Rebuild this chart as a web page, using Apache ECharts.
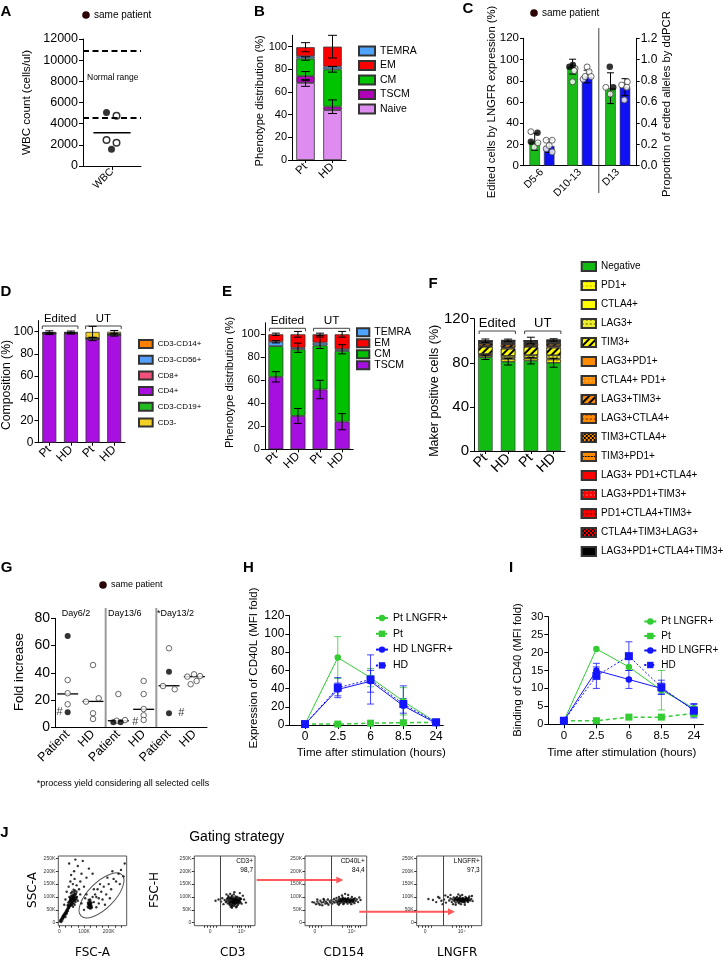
<!DOCTYPE html>
<html><head><meta charset="utf-8">
<script src="https://cdn.jsdelivr.net/npm/echarts@6/dist/echarts.min.js"></script>
<style>
html,body{margin:0;padding:0;background:#fff;}
#wrap{position:relative;width:726px;height:960px;overflow:hidden;background:#fff;}
.c{position:absolute;left:0;top:0;width:726px;height:960px;}
</style></head><body><div id="wrap"></div>
<script>
// ================= DATA =================
// Panel A
const A_CATS = ['WBC'];
const A_FILLED = [5050, 1580];
const A_OPEN = [4750, 2460, 2200];
const A_MEAN = 3150;
const A_NORMAL = [4600, 10900];
// Panel B
const B_CATS = ['Pt', 'HD'];
const B_NAMES = ['Naive', 'TSCM', 'CM', 'TEMRA', 'EM'];
const B_NAIVE = [68, 44];
const B_TSCM = [6, 3];
const B_CM = [15.5, 33];
const B_TEMRA = [2, 2.3];
const B_EM = [8, 17.7];
const B_SD_NAIVE = [3, 0];
const B_SD_TSCM = [4, 6];
const B_SD_CM = [1.5, 2.5];
const B_SD_EM = [4, 10];
// Panel C
const C_CATS = ['D5-6', 'D10-13', 'D13'];
const C_LNGFR = [22.5, 93.3, 73];
const C_DDPCR = [0.185, 0.84, 0.74];
const C_SD_LNGFR = [8, 7, 14.5];
const C_SD_DDPCR = [0.06, 0.06, 0.08];
const C_LNGFR_FILLED = [[22.5, 31], [93.3, 94.8], [93.3, 73.8]];
const C_LNGFR_OPEN = [[32, 17.5, 21.5], [91.7, 89.5, 79], [73.8, 67.5]];
const C_DDPCR_OPEN = [[0.24, 0.24, 0.16, 0.13, 0.19], [0.93, 0.815, 0.84, 0.885, 0.84], [0.76, 0.79, 0.62, 0.74]];
// Panel D
const D_CATS = ['Pt', 'HD', 'Pt', 'HD'];
const D_GROUPS = ['Edited', 'UT'];
const D_NAMES = ['CD4+', 'CD3-CD19+', 'CD8+', 'CD3-CD56+', 'CD3-CD14+', 'CD3-'];
const D_LEGEND = ['CD3-CD14+', 'CD3-CD56+', 'CD8+', 'CD4+', 'CD3-CD19+', 'CD3-'];
const D_CD4 = [98.2, 98.4, 93.5, 97];
const D_CD19 = [0.1, 0.1, 0.1, 0.1];
const D_CD8 = [0.3, 0.2, 0.3, 0.3];
const D_CD56 = [0.2, 0.2, 0.2, 0.3];
const D_CD14 = [0.1, 0.1, 0.2, 0.2];
const D_CD3N = [0.9, 0.8, 5.5, 2];
const D_SD_CD4 = [0.8, 0.5, 1.5, 1];
const D_SD_TOTAL = [1, 0.8, 5, 1.2];
// Panel E
const E_CATS = ['Pt', 'HD', 'Pt', 'HD'];
const E_NAMES = ['TSCM', 'CM', 'TEMRA', 'EM'];
const E_TSCM = [63, 29, 52, 24];
const E_CM = [26.7, 58, 38.4, 61.5];
const E_TEMRA = [3.8, 1.3, 2.3, 1.5];
const E_EM = [6.5, 11.7, 7.3, 13];
const E_SD_TSCM = [4.5, 6.5, 8, 7];
const E_SD_TEMRA = [1, 4, 5, 4];
const E_SD_TOTAL = [1, 2.5, 1, 2.5];
// Panel F
const F_CATS = ['Pt', 'HD', 'Pt', 'HD'];
const F_NAMES = ['Negative', 'PD1+', 'CTLA4+', 'LAG3+', 'TIM3+', 'LAG3+PD1+', 'CTLA4+ PD1+', 'LAG3+TIM3+', 'LAG3+CTLA4+', 'TIM3+CTLA4+', 'TIM3+PD1+', 'LAG3+ PD1+CTLA4+', 'LAG3+PD1+TIM3+', 'PD1+CTLA4+TIM3+', 'CTLA4+TIM3+LAG3+', 'LAG3+PD1+CTLA4+TIM3+'];
const F_NEG = [85, 81, 82, 80];
const F_PD1 = [1.5, 2.5, 2, 3];
const F_CTLA4 = [0.5, 0.8, 0.5, 0.8];
const F_LAG3 = [1, 2, 2.5, 3];
const F_TIM3 = [6.5, 6.5, 7.5, 7];
const F_LAG3_PD1 = [0.5, 0.8, 0.6, 0.9];
const F_CTLA4_PD1 = [0.3, 0.5, 0.3, 0.5];
const F_LAG3_TIM3 = [2, 2.5, 1.8, 2];
const F_LAG3_CTLA4 = [0.3, 0.4, 0.3, 0.4];
const F_TIM3_CTLA4 = [0.8, 1, 0.9, 0.9];
const F_TIM3_PD1 = [0.6, 0.8, 0.7, 0.7];
const F_LAG3_PD1_CTLA4 = [0.2, 0.3, 0.2, 0.3];
const F_LAG3_PD1_TIM3 = [0.3, 0.4, 0.3, 0.4];
const F_PD1_CTLA4_TIM3 = [0.3, 0.5, 0.3, 0.4];
const F_CTLA4_TIM3_LAG3 = [0.2, 0.3, 0.2, 0.3];
const F_ALL4 = [0.1, 0.2, 0.1, 0.2];
const F_SD_NEG = [2, 3, 3, 4];
const F_SD_TOTAL = [1.5, 1, 3, 1];
// Panel G
const G_CATS = ['Patient', 'HD', 'Patient', 'HD', 'Patient', 'HD'];
const G_GROUPS = ['Day6/2', 'Day13/6', '*Day13/2'];
const G_FILLED = [[67, 11], [], [3.7, 3.7], [], [40.8, 10.3], []];
const G_OPEN = [[34.7, 25, 16.9], [45.7, 21.3, 18.8, 10.3, 6.1], [24.4, 4.8, 5.3], [34, 24.4, 13.4, 8.8, 5.4], [58, 30.3, 27.9], [37.2, 38.9, 37.6, 31.6, 34]];
const G_MEDIAN = [24.5, 19, 4.8, 13.2, 30.5, 37.2];
const G_HASH = [[0, 11], [3, 4.1], [4, 10.3]];
// Panel H
const H_TIMES = ['0', '2.5', '6', '8.5', '24'];
const H_PT_LNGFR = [1, 74, 52, 26, 3];
const H_PT = [1, 1, 2, 2.5, 3];
const H_HD_LNGFR = [1, 39, 48, 21, 2];
const H_HD = [1, 41, 50, 23, 3];
const H_SD_PT_LNGFR = [0, 23, 10, 15, 1];
const H_SD_PT = [0, 0.5, 0.5, 0.5, 0.5];
const H_SD_HD_LNGFR = [0, 7, 12, 8, 1];
const H_SD_HD = [0, 11, 27, 20, 1];
// Panel I
const I_TIMES = ['0', '2.5', '6', '8.5', '24'];
const I_PT_LNGFR = [1, 21, 16, 9.5, 4.5];
const I_PT = [1, 1, 2, 2, 3];
const I_HD_LNGFR = [1, 15, 12.5, 10, 4];
const I_HD = [1, 13.5, 19, 10.3, 3.8];
const I_SD_PT_LNGFR = [0, 0, 0, 5.5, 0.5];
const I_SD_PT = [0, 0, 0.3, 0.3, 0.5];
const I_SD_HD_LNGFR = [0, 1, 2.5, 1.5, 1.5];
const I_SD_HD = [0, 3.5, 4, 2, 2];
const HI_SERIES = ['Pt LNGFR+', 'Pt', 'HD LNGFR+', 'HD'];
// Panel J (events: FSC-A/SSC-A in K; channel units 0-100 vs FSC-H in K)
const J_FSC_SSC = [[3,5],[6,12],[8,3],[10,18],[12,8],[14,25],[15,15],[17,30],[18,20],[20,35],[22,28],[24,40],[25,22],[27,45],[28,33],[30,50],[31,38],[33,55],[35,45],[36,62],
[38,70],[40,58],[42,75],[43,85],[45,65],[46,92],[48,78],[50,88],[50,100],[52,70],[53,95],[55,82],[55,110],[57,90],[58,75],[60,100],[60,118],[62,85],[63,95],[65,105],[66,80],[68,112],[70,92],[48,105],[44,96],[40,82],[52,120],[58,128],[64,125],[36,78],[34,68],[56,62],[62,70],[70,120],[72,100],[75,85],[47,115],[41,100],
[46,72],[51,80],[54,90],[59,84],[61,108],[49,68],[57,102],[63,112],[67,98],[44,88],[39,64],[53,76],[5,9],[9,14],[13,20],[16,24],[19,27],[23,33],[26,38],[29,42],[32,48],[35,52],[38,57],[42,66],[47,84],[56,96],[60,90],[65,88],[54,104],[49,94],
[30,120],[38,140],[45,160],[55,150],[62,170],[70,145],[80,130],[85,160],[90,190],[60,200],[48,185],[75,220],[95,240],[40,230],[110,175],[100,140],[120,210],[135,190],[65,245],[25,90],[20,70],[85,110],[90,75],
[115,62],[117,72],[118,58],[120,68],[121,80],[122,65],[123,75],[124,55],[125,70],[126,85],[127,62],[128,74],[130,67],[131,78],[119,88],[116,78],[129,56],[124,90],[132,60],[121,70],[126,66],[123,60],[119,76],[122,72],[125,78],[127,68],
[140,80],[150,100],[160,95],[155,130],[170,120],[180,140],[190,110],[200,150],[210,130],[220,170],[230,160],[175,90],[145,110],[165,150],[195,175],[240,190],[250,205],[260,180],[205,95],[185,70],[150,60],[140,130],[215,200],[265,230],[100,50],[105,95],[110,110],[135,100],[160,75],[245,150]];
const J_CD3 = [[50,88],[52,80],[54,92],[55,75],[56,85],[57,98],[58,70],[58,88],[59,80],[60,95],[60,62],[61,86],[62,76],[62,105],[63,90],[63,70],[64,84],[64,98],[65,78],[65,110],[66,88],[66,66],[67,94],[67,80],[68,74],[68,102],[69,86],[69,60],[70,92],[70,78],[71,84],[71,100],[72,70],[72,90],[73,82],[74,96],[74,76],[75,88],[76,80],[77,92],[78,74],[56,104],[59,112],[61,68],[66,118],[70,64],[62,58],[64,90],[60,82],[67,86],[65,92],[63,80],[61,92],[69,80],[57,78],[72,84],[68,90],[66,74],[74,88],[58,94],
[53,84],[55,96],[59,74],[61,100],[63,64],[65,84],[67,72],[69,96],[71,76],[73,88],[75,80],[76,94],[62,82],[64,76],[68,82],[70,86],
[35,85],[40,90],[44,82],[46,95],[82,90],[85,78],[80,105],[48,72],[53,110],[75,115]];
const J_CD154 = [[15,78],[18,72],[20,82],[22,75],[24,70],[25,85],[27,78],[28,68],[30,80],[31,88],[33,74],[34,82],[36,76],[37,90],[38,70],[40,84],[41,78],[43,88],[44,74],[46,82],[47,92],[48,78],[50,86],[51,96],[52,80],[53,74],[54,88],[55,100],[56,82],[57,76],[58,92],[59,86],[60,80],[61,98],[62,88],[63,76],[64,84],[65,94],[66,80],[67,90],[68,86],[69,74],[70,96],[71,82],[72,88],[73,78],[74,92],[75,84],[76,100],[77,80],[78,90],[79,86],[80,76],[81,94],[82,84],[84,90],[86,80],[60,106],[65,112],[70,108],[55,70],[62,72],[75,72],[66,88],[58,84],[72,80],[64,90],[76,88],[68,80],[62,94],[56,92],[78,82],[30,92],[12,80],[20,90],[90,88],[88,98],
[57,84],[61,90],[63,82],[67,84],[69,92],[71,88],[73,84],[77,88],[79,92],[74,82],[66,92],[60,88],[54,82]];
const J_LNGFR = [[18,92],[25,88],[30,80],[35,96],[38,85],[42,90],[45,78],[48,100],[50,86],[52,94],[54,80],[55,90],[56,72],[57,98],[58,84],[59,92],[60,78],[61,88],[62,100],[63,82],[64,94],[65,76],[66,88],[67,104],[68,84],[69,92],[70,80],[71,96],[72,86],[73,90],[74,78],[75,100],[76,88],[77,84],[78,94],[79,80],[80,90],[81,102],[82,86],[70,108],[64,110],[60,70],[68,72],[74,70],[66,96],[72,92],[62,90],[58,88],[76,96],[70,88],[66,80],[64,86],[78,88],[60,96],[80,96],[84,92],[86,84],[40,72],[44,106],[33,100],[52,108],[85,104],
[63,88],[65,92],[67,86],[69,84],[71,90],[73,86],[75,92],[77,90],[79,86],[68,94],[72,80],[74,84]];
const J_GATES = [42.8, 42.1, 40.9];
const J_GATE_LABELS = [['CD3+', '98,7'], ['CD40L+', '84,4'], ['LNGFR+', '97,3']];
const J_XTITLES = ['FSC-A', 'CD3', 'CD154', 'LNGFR'];
const J_YTITLES = ['SSC-A', 'FSC-H'];
const J_ELLIPSE_CENTER = [171, 106];

// ================= LAYOUT OFFSETS (px) =================
const A_JIT_FILLED = [-5.5, -0.5], A_JIT_OPEN = [4.5, -5.5, 4.5], A_MEAN_HALF = 18.6;
const C_JIT_FILLED = [[-3.8, 2.8], [-3.2, 0.2], [-0.7, 2.7]];
const C_JIT_OPEN = [[-3.8, -0.5, 3.2], [2.5, 1.5, 0], [-4.7, -0.3]];
const C_JIT_DD = [[-3, 3, -3, 3, 0], [0, -4, -2, 2, 4], [-3.3, 2.3, -0.7, 1.7]];
const G_JIT_FILLED = [[0, 0], [], [-5, 2.3], [], [0, 0], []];
const G_JIT_OPEN = [[0, 0, 0], [0, 5.7, -7, 0, 0], [0, -1.7, 6.7], [0, 0, 0, 0, 0], [0, -6, 5.7], [-7, -0.3, 5.7, -3.7, 2.3]];
const G_HASH_DX = [-8, -8.4, 12.3];

// ================= HELPERS =================
const FF = "'Liberation Sans', Arial, Helvetica, sans-serif";
const plain = v => String(+v.toFixed(6));
function merge(a, b) {
  for (const k in b) {
    if (b[k] && typeof b[k] === 'object' && !Array.isArray(b[k]) && a[k] && typeof a[k] === 'object' && !Array.isArray(a[k])) merge(a[k], b[k]);
    else a[k] = b[k];
  }
  return a;
}
function axis(type, o) {
  const base = {
    type: type,
    axisLine: { show: true, onZero: false, lineStyle: { color: '#000', width: 1 } },
    axisTick: { show: true, length: 4, inside: false, lineStyle: { color: '#000', width: 1 } },
    axisLabel: { show: true, color: '#000', fontFamily: FF, fontSize: 11, margin: 5 },
    splitLine: { show: false }, splitArea: { show: false }, minorTick: { show: false }, minorSplitLine: { show: false }
  };
  if (type === 'value') base.axisLabel.formatter = plain;
  return merge(base, o || {});
}
function hid(o) { return Object.assign({ type: 'value', show: false, splitLine: { show: false } }, o); }
function grid(l, t, w, h, o) { return Object.assign({ left: l, top: t, width: w, height: h, containLabel: false, outerBoundsMode: 'none', show: false }, o || {}); }
function txt(x, y, s, size, o) {
  o = o || {};
  return { type: 'text', x: x, y: y, rotation: o.rot || 0, z: 100, silent: true,
    style: { text: s, fontSize: size, fontFamily: o.ff || FF, fontWeight: o.fw || 'normal', fill: o.color || '#000', align: o.align || 'center', verticalAlign: o.va || 'middle' } };
}
function letter(ch, x, y) { return txt(x, y, ch, 15, { fw: 'bold' }); }
function samePatient(x, y, fs) {
  return [{ type: 'circle', x: x, y: y, shape: { cx: 0, cy: 0, r: 3.8 }, style: { fill: '#2b0505' }, silent: true },
    txt(x + 8, y, 'same patient', fs, { align: 'left' })];
}
function mkChart() {
  const d = document.createElement('div'); d.className = 'c';
  document.getElementById('wrap').appendChild(d);
  return echarts.init(d, null, { renderer: 'canvas', width: 726, height: 960 });
}
function cum(arrs) {
  const out = []; let run = arrs[0].map(() => 0);
  arrs.forEach(a => { run = run.map((r, i) => r + a[i]); out.push(run.slice()); });
  return out;
}
function errSeries(xi, yi, items, off, cap, color, lw) {
  return { type: 'custom', xAxisIndex: xi, yAxisIndex: yi, silent: true, z: 8, clip: false,
    data: items.filter(d => d[2] > 0),
    renderItem: function (p, api) {
      const x = api.value(0), c = api.value(1), s = api.value(2);
      const a = api.coord([x, c + s]), b = api.coord([x, c - s]);
      const X = a[0] + (off || 0);
      const st = { stroke: color || '#000', lineWidth: lw || 1, fill: 'none' };
      return { type: 'group', children: [
        { type: 'line', shape: { x1: X, y1: a[1], x2: X, y2: b[1] }, style: st },
        { type: 'line', shape: { x1: X - cap, y1: a[1], x2: X + cap, y2: a[1] }, style: st },
        { type: 'line', shape: { x1: X - cap, y1: b[1], x2: X + cap, y2: b[1] }, style: st }] };
    } };
}
function legendOpt(left, top, names, fs, iw, ih, gap, extra) {
  return merge({ show: true, orient: 'vertical', left: left, top: top, data: names, itemWidth: iw, itemHeight: ih, itemGap: gap,
    padding: 0, selectedMode: false, icon: 'rect', textStyle: { fontFamily: FF, fontSize: fs, color: '#000' } }, extra || {});
}
function bracket(x1, x2, y, label, fs, ty) {
  return [{ type: 'polyline', silent: true, shape: { points: [[x1, y + 3], [x1, y], [x2, y], [x2, y + 3]] }, style: { stroke: '#444', lineWidth: 1, fill: 'none' } },
    txt((x1 + x2) / 2, ty, label, fs)];
}
function catCenter(g, n, i) { return g.left + (i + 0.5) * g.width / n; }
function base(extra) { return Object.assign({ animation: false, textStyle: { fontFamily: FF } }, extra); }
const yTicks = (max, step) => { const a = []; for (let v = 0; v <= max + 1e-9; v += step) a.push(+v.toFixed(6)); return a; };

// ================= PANEL A =================
(function () {
  const ch = mkChart();
  const g = grid(83, 39, 58, 127);
  const ppu = g.width / 2;
  ch.setOption(base({
    grid: [g],
    xAxis: [axis('category', { data: A_CATS, axisLabel: { rotate: 45, fontSize: 10.5, interval: 0, margin: 4 }, axisTick: { alignWithLabel: true, length: 4 } }), hid({ min: -1, max: 1 })],
    yAxis: [axis('value', { min: 0, max: 12000, interval: 2000, axisLabel: { fontSize: 12.5, margin: 5 } })],
    series: [
      { type: 'line', xAxisIndex: 1, data: [[-A_MEAN_HALF / ppu, A_MEAN], [A_MEAN_HALF / ppu, A_MEAN]], symbol: 'none', lineStyle: { color: '#000', width: 1.5 },
        markLine: { silent: true, symbol: 'none', label: { show: false }, lineStyle: { color: '#000', width: 2, type: [6, 3.5] }, data: A_NORMAL.map(v => ({ yAxis: v })) } },
      { type: 'scatter', xAxisIndex: 1, data: A_FILLED.map((v, i) => [A_JIT_FILLED[i] / ppu, v]), symbolSize: 7, itemStyle: { color: '#000' } },
      { type: 'scatter', xAxisIndex: 1, data: A_OPEN.map((v, i) => [A_JIT_OPEN[i] / ppu, v]), symbolSize: 6.5, itemStyle: { color: '#fff', borderColor: '#000', borderWidth: 1.5 } }
    ],
    graphic: [letter('A', 6, 11.7), ...samePatient(86, 15, 10), txt(87, 78, 'Normal range', 8.5, { align: 'left' }),
      txt(26.7, 102.5, 'WBC count (cells/ul)', 11.6, { rot: Math.PI / 2 })]
  }));
})();

// ================= PANEL B =================
(function () {
  const ch = mkChart();
  const g = grid(292, 35.3, 54, 124.7);
  const segs = [B_NAIVE, B_TSCM, B_CM, B_TEMRA, B_EM];
  const cols = ['#df8cf0', '#b000b8', '#00c400', '#4ea4ff', '#ff0000'];
  const tops = cum(segs);
  const series = segs.map((d, i) => ({ type: 'bar', name: B_NAMES[i], stack: 'b', data: d, barWidth: 18.5,
    itemStyle: { color: cols[i], borderColor: '#333', borderWidth: 0.8 } }));
  const err = [];
  [[0, B_SD_NAIVE], [1, B_SD_TSCM], [2, B_SD_CM], [4, B_SD_EM]].forEach(([si, sd]) => sd.forEach((s, ci) => err.push([ci, tops[si][ci], s])));
  series.push(errSeries(0, 0, err, 0, 4.5, '#000'));
  ch.setOption(base({
    grid: [g],
    xAxis: [axis('category', { data: B_CATS, axisLabel: { rotate: 45, fontSize: 11.5, interval: 0, margin: 5 }, axisTick: { alignWithLabel: true, length: 3 } })],
    yAxis: [axis('value', { min: 0, max: 110, axisLabel: { fontSize: 11, customValues: yTicks(100, 20) }, axisTick: { customValues: yTicks(100, 20) } })],
    legend: [legendOpt(358, 45.5, ['TEMRA', 'EM', 'CM', 'TSCM', 'Naive'], 10.5, 16, 9, 3.5)],
    series: series,
    graphic: [letter('B', 259.5, 11.7), txt(260, 100.8, 'Phenotype distribution (%)', 11.2, { rot: Math.PI / 2 })]
  }));
})();

// ================= PANEL C =================
(function () {
  const ch = mkChart();
  const g = grid(523, 38.3, 113.7, 127.4);
  const ppu = g.width / 3;
  const bw = 10.5, gapPx = 4, off = (bw + gapPx) / 2;
  const pts = (arr, jit, sign) => { const out = []; arr.forEach((vals, ci) => vals.forEach((v, k) => out.push([ci + 0.5 + (sign * off + jit[ci][k]) / ppu, v]))); return out; };
  const GR = '#18bb18', BL = '#1010f5';
  ch.setOption(base({
    grid: [g],
    xAxis: [axis('category', { data: C_CATS, axisLabel: { rotate: 45, fontSize: 10.5, interval: 0, margin: 5 }, axisTick: { show: false } }), hid({ min: 0, max: 3 })],
    yAxis: [axis('value', { min: 0, max: 120, interval: 20, axisLabel: { fontSize: 11.5, margin: 4 }, axisTick: { length: 3 } }),
      axis('value', { position: 'right', min: 0, max: 1.2, interval: 0.2, axisLabel: { fontSize: 12, margin: 4, formatter: v => v.toFixed(1) }, axisTick: { length: 3 } })],
    series: [
      { type: 'bar', name: 'LNGFR', data: C_LNGFR, yAxisIndex: 0, barWidth: bw, barGap: (gapPx / bw * 100) + '%', itemStyle: { color: GR, borderColor: '#333', borderWidth: 0.6 } },
      { type: 'bar', name: 'ddPCR', data: C_DDPCR, yAxisIndex: 1, barWidth: bw, itemStyle: { color: BL, borderColor: '#333', borderWidth: 0.6 } },
      errSeries(0, 0, C_LNGFR.map((v, i) => [i, v, C_SD_LNGFR[i]]), -off, 3.5, '#000'),
      errSeries(0, 1, C_DDPCR.map((v, i) => [i, v, C_SD_DDPCR[i]]), off, 3.5, '#000'),
      { type: 'scatter', xAxisIndex: 1, yAxisIndex: 0, z: 10, data: pts(C_LNGFR_OPEN, C_JIT_OPEN, -1), symbolSize: 6, itemStyle: { color: '#fff', borderColor: '#444', borderWidth: 1 } },
      { type: 'scatter', xAxisIndex: 1, yAxisIndex: 1, z: 10, data: pts(C_DDPCR_OPEN, C_JIT_DD, 1), symbolSize: 6, itemStyle: { color: '#fff', borderColor: '#444', borderWidth: 1 } },
      { type: 'scatter', xAxisIndex: 1, yAxisIndex: 0, z: 11, data: pts(C_LNGFR_FILLED, C_JIT_FILLED, -1), symbolSize: 6.5, itemStyle: { color: '#000' } }
    ],
    graphic: [letter('C', 468, 9), ...samePatient(534, 13, 10),
      { type: 'line', silent: true, shape: { x1: g.left + 2 * ppu, y1: 28, x2: g.left + 2 * ppu, y2: 193 }, style: { stroke: '#444', lineWidth: 1 } },
      txt(491.5, 102, 'Edited cells by LNGFR expression (%)', 11.3, { rot: Math.PI / 2 }),
      txt(667, 104, 'Proportion of edted alleles by ddPCR', 11.3, { rot: Math.PI / 2 })]
  }));
})();

// ================= PANEL D =================
(function () {
  const ch = mkChart();
  const g = grid(38.5, 320.6, 86.5, 122.1);
  const segs = [D_CD4, D_CD19, D_CD8, D_CD56, D_CD14, D_CD3N];
  const cols = ['#a80fe0', '#22bb22', '#f0507a', '#55a0ff', '#ff8000', '#f2d024'];
  const tops = cum(segs);
  const bw = 14;
  const series = segs.map((d, i) => ({ type: 'bar', name: D_NAMES[i], stack: 'd', data: d, barWidth: bw, itemStyle: { color: cols[i], borderColor: '#333', borderWidth: 0.8 } }));
  const err = [];
  D_SD_CD4.forEach((s, ci) => err.push([ci, tops[0][ci], s]));
  D_SD_TOTAL.forEach((s, ci) => err.push([ci, tops[5][ci], s]));
  series.push(errSeries(0, 0, err, 0, 4, '#000'));
  const c = i => catCenter(g, 4, i);
  ch.setOption(base({
    grid: [g],
    xAxis: [axis('category', { data: D_CATS, axisLabel: { rotate: 45, fontSize: 12, interval: 0, margin: 5 }, axisTick: { alignWithLabel: true, length: 3 } })],
    yAxis: [axis('value', { min: 0, max: 110, axisLabel: { fontSize: 12, customValues: yTicks(100, 20) }, axisTick: { customValues: yTicks(100, 20) } })],
    legend: [legendOpt(138, 339, D_LEGEND, 8, 13.7, 8, 5.7)],
    series: series,
    graphic: [letter('D', 6, 291.7), txt(7, 385, 'Composition (%)', 12.2, { rot: Math.PI / 2 }),
      ...bracket(c(0) - bw / 2, c(1) + bw / 2, 326, D_GROUPS[0], 11.4, 319),
      ...bracket(c(2) - bw / 2, c(3) + bw / 2, 326, D_GROUPS[1], 11.4, 319)]
  }));
})();

// ================= PANEL E =================
(function () {
  const ch = mkChart();
  const g = grid(264.8, 322.8, 88.4, 126.5);
  const segs = [E_TSCM, E_CM, E_TEMRA, E_EM];
  const cols = ['#a50fe0', '#00c000', '#4ea4ff', '#ff0000'];
  const tops = cum(segs);
  const bw = 15;
  const series = segs.map((d, i) => ({ type: 'bar', name: E_NAMES[i], stack: 'e', data: d, barWidth: bw, itemStyle: { color: cols[i], borderColor: '#333', borderWidth: 0.8 } }));
  const err = [];
  E_SD_TSCM.forEach((s, ci) => err.push([ci, tops[0][ci], s]));
  E_SD_TEMRA.forEach((s, ci) => err.push([ci, tops[2][ci], s]));
  E_SD_TOTAL.forEach((s, ci) => err.push([ci, tops[3][ci], s]));
  series.push(errSeries(0, 0, err, 0, 4, '#000'));
  const c = i => catCenter(g, 4, i);
  ch.setOption(base({
    grid: [g],
    xAxis: [axis('category', { data: E_CATS, axisLabel: { rotate: 45, fontSize: 12, interval: 0, margin: 5 }, axisTick: { alignWithLabel: true, length: 3 } })],
    yAxis: [axis('value', { min: 0, max: 110, axisLabel: { fontSize: 11, customValues: yTicks(100, 20) }, axisTick: { customValues: yTicks(100, 20) } })],
    legend: [legendOpt(356, 326.8, ['TEMRA', 'EM', 'CM', 'TSCM'], 10.5, 12.3, 8, 0)],
    series: series,
    graphic: [letter('E', 227, 291.7), txt(230, 382.5, 'Phenotype distribution (%)', 11.2, { rot: Math.PI / 2 }),
      ...bracket(c(0) - bw / 2 + 1, c(1) + bw / 2, 328.3, 'Edited', 11.8, 321),
      ...bracket(c(2) - bw / 2 + 1, c(3) + bw / 2, 328.3, 'UT', 11.8, 321)]
  }));
})();

// ================= PANEL F =================
(function () {
  const ch = mkChart();
  const g = grid(474, 318.7, 91, 132.3);
  const YEL = '#ffff00', ORG = '#ff8c00', RED = '#ff0000', GRN = '#11bb11';
  const stripe = c => ({ symbol: 'rect', symbolSize: 1, color: c, dashArrayX: [1, 0], dashArrayY: [2, 3], rotation: -Math.PI / 4 });
  const dots = (c, s) => ({ symbol: 'circle', symbolSize: s || 0.8, color: c, dashArrayX: [2, 2], dashArrayY: [2, 2] });
  const checker = c => ({ symbol: 'rect', symbolSize: 1, color: c, dashArrayX: [[2, 2], [0, 2, 2, 0]], dashArrayY: [2, 0] });
  const dash = c => ({ symbol: 'rect', symbolSize: 1, color: c, dashArrayX: [2, 1], dashArrayY: [1, 3] });
  const segs = [F_NEG, F_PD1, F_CTLA4, F_LAG3, F_TIM3, F_LAG3_PD1, F_CTLA4_PD1, F_LAG3_TIM3, F_LAG3_CTLA4, F_TIM3_CTLA4, F_TIM3_PD1, F_LAG3_PD1_CTLA4, F_LAG3_PD1_TIM3, F_PD1_CTLA4_TIM3, F_CTLA4_TIM3_LAG3, F_ALL4];
  const styles = [[GRN], [YEL, dots('#d09000')], [YEL], ['#eeee30', dots('#8a8a00', 1)], [YEL, stripe('#000')],
    [ORG], [ORG, dots('#ffd070')], [ORG, stripe('#000')], [ORG, dots('#a04000', 1)], [ORG, checker('#000')], [ORG, dash('#000')],
    [RED], [RED, dots('#ff9090')], [RED, dots('#900000', 1)], [RED, checker('#000')], ['#000']];
  const tops = cum(segs);
  const bw = 14.5;
  const series = segs.map((d, i) => {
    const it = { color: styles[i][0], borderColor: '#333', borderWidth: 0.6 };
    if (styles[i][1]) it.decal = styles[i][1];
    return { type: 'bar', name: F_NAMES[i], stack: 'f', data: d, barWidth: bw, itemStyle: it };
  });
  const err = [];
  F_SD_NEG.forEach((s, ci) => err.push([ci, tops[0][ci], s]));
  F_SD_TOTAL.forEach((s, ci) => err.push([ci, tops[15][ci], s]));
  series.push(errSeries(0, 0, err, 0, 4, '#000'));
  const c = i => catCenter(g, 4, i);
  ch.setOption(base({
    grid: [g],
    xAxis: [axis('category', { data: F_CATS, axisLabel: { rotate: 45, fontSize: 14, interval: 0, margin: 5 }, axisTick: { alignWithLabel: true, length: 3 } })],
    yAxis: [axis('value', { min: 0, max: 120, interval: 40, axisLabel: { fontSize: 15, margin: 5 } })],
    legend: [legendOpt(580.7, 261, F_NAMES, 10, 14.3, 9, 8)],
    series: series,
    graphic: [letter('F', 433, 283.5), txt(435, 390.8, 'Maker positive cells (%)', 12.5, { rot: Math.PI / 2 }),
      ...bracket(c(0) - bw / 2 + 1, c(1) + bw / 2, 331, 'Edited', 13, 323.5),
      ...bracket(c(2) - bw / 2 + 1, c(3) + bw / 2, 331, 'UT', 13, 323.5)]
  }));
})();

// ================= PANEL G =================
(function () {
  const ch = mkChart();
  const g = grid(55, 618.3, 152, 109);
  const ppu = g.width / 6;
  const pts = (arr, jit) => { const out = []; arr.forEach((vals, ci) => vals.forEach((v, k) => out.push([ci + 0.5 + jit[ci][k] / ppu, v]))); return out; };
  ch.setOption(base({
    grid: [g],
    xAxis: [axis('category', { data: G_CATS, axisLabel: { rotate: 45, fontSize: 12.5, interval: 0, margin: 5 }, axisTick: { show: false } }), hid({ min: 0, max: 6 })],
    yAxis: [axis('value', { min: 0, max: 80, interval: 20, axisLabel: { fontSize: 14, margin: 5 } })],
    series: [
      { type: 'custom', xAxisIndex: 1, silent: true, data: G_MEDIAN.map((m, i) => [i + 0.5, m]),
        renderItem: (p, api) => { const q = api.coord([api.value(0), api.value(1)]); return { type: 'line', shape: { x1: q[0] - 10.5, y1: q[1], x2: q[0] + 10.5, y2: q[1] }, style: { stroke: '#000', lineWidth: 1.3 } }; } },
      { type: 'scatter', xAxisIndex: 1, z: 5, data: pts(G_OPEN, G_JIT_OPEN), symbolSize: 5.5, itemStyle: { color: '#fff', borderColor: '#444', borderWidth: 1 } },
      { type: 'scatter', xAxisIndex: 1, z: 6, data: pts(G_FILLED, G_JIT_FILLED), symbolSize: 6, itemStyle: { color: '#000' } },
      { type: 'scatter', xAxisIndex: 1, z: 7, data: G_HASH.map((h, i) => [h[0] + 0.5 + G_HASH_DX[i] / ppu, h[1]]), symbolSize: 1, itemStyle: { color: 'rgba(0,0,0,0)' },
        label: { show: true, position: 'inside', formatter: '#', fontSize: 11, color: '#000', fontFamily: FF } }
    ],
    graphic: [letter('G', 6.7, 567.7), ...samePatient(103, 585, 9),
      { type: 'line', silent: true, shape: { x1: g.left + 2 * ppu, y1: 608, x2: g.left + 2 * ppu, y2: g.top + g.height }, style: { stroke: '#9a9a9a', lineWidth: 2 } },
      { type: 'line', silent: true, shape: { x1: g.left + 4 * ppu, y1: 608, x2: g.left + 4 * ppu, y2: g.top + g.height }, style: { stroke: '#9a9a9a', lineWidth: 2 } },
      txt(76, 613.3, G_GROUPS[0], 9), txt(124.7, 613.3, G_GROUPS[1], 9), txt(175.5, 613.3, G_GROUPS[2], 9),
      txt(19, 672, 'Fold increase', 13, { rot: Math.PI / 2 }),
      txt(36.7, 783.3, '*process yield considering all selected cells', 9, { align: 'left' })]
  }));
})();

// ================= PANELS H & I =================
function timeChart(cfg) {
  const ch = mkChart();
  const GR = '#33cc33', BL = '#1414ff';
  const ser = [
    { name: HI_SERIES[0], d: cfg.ptL, sd: cfg.sdPtL, c: GR, sym: 'circle', ss: 6.5, ls: { width: 1 } },
    { name: HI_SERIES[1], d: cfg.pt, sd: cfg.sdPt, c: GR, sym: 'rect', ss: 7, ls: { width: 1.5, type: [4, 3] } },
    { name: HI_SERIES[2], d: cfg.hdL, sd: cfg.sdHdL, c: BL, sym: 'circle', ss: 6.5, ls: { width: 1 } },
    { name: HI_SERIES[3], d: cfg.hd, sd: cfg.sdHd, c: BL, sym: 'rect', ss: 8, ls: { width: 1, type: [2, 2] } }];
  const series = [];
  ser.forEach(s => {
    series.push(errSeries(0, 0, s.d.map((v, i) => [i, v, s.sd[i]]), 0, 3.5, s.c, 0.8));
    series.push({ type: 'line', name: s.name, data: s.d.map((v, i) => [i, v]), symbol: s.sym, symbolSize: s.ss, z: 9,
      lineStyle: Object.assign({ color: s.c }, s.ls), itemStyle: { color: s.c } });
  });
  const idx = [0, 1, 2, 3, 4];
  ch.setOption(base({
    grid: [cfg.g],
    xAxis: [axis('value', { min: cfg.xmin, max: cfg.xmax, axisLabel: { customValues: idx, formatter: v => cfg.times[Math.round(v)], fontSize: cfg.xfs, margin: 6 }, axisTick: { customValues: idx, length: 4 } })],
    yAxis: [axis('value', { min: 0, max: cfg.ymax, interval: cfg.yint, axisLabel: { fontSize: cfg.yfs, margin: 5 } })],
    legend: [{ show: true, orient: 'vertical', left: cfg.lx, top: cfg.ly, data: HI_SERIES, itemWidth: 12, itemHeight: 8, itemGap: cfg.lgap, padding: 0, selectedMode: false,
      textStyle: { fontFamily: FF, fontSize: cfg.lfs, color: '#000' } }],
    series: series,
    graphic: [letter(cfg.letter, cfg.letX, 567.7), txt(cfg.ytX, cfg.ytY, cfg.ytitle, cfg.ytfs, { rot: Math.PI / 2 }),
      txt(cfg.g.left + (cfg.g.width) / 2 + cfg.xtdx, 753.3, 'Time after stimulation (hours)', 11.5)]
  }));
}
timeChart({ g: grid(289.3, 615.7, 154, 109.3), xmin: -0.48, xmax: 4.22, ymax: 120, yint: 20, xfs: 12, yfs: 12, times: H_TIMES,
  ptL: H_PT_LNGFR, pt: H_PT, hdL: H_HD_LNGFR, hd: H_HD, sdPtL: H_SD_PT_LNGFR, sdPt: H_SD_PT, sdHdL: H_SD_HD_LNGFR, sdHd: H_SD_HD,
  lx: 375, ly: 612.5, lgap: 4.8, lfs: 10.5, letter: 'H', letX: 248.3, ytX: 254, ytY: 668, ytitle: 'Expression of CD40L (MFI fold)', ytfs: 11.5, xtdx: 5 });
timeChart({ g: grid(548.3, 616.7, 155, 107.6), xmin: -0.48, xmax: 4.29, ymax: 30, yint: 5, xfs: 11.5, yfs: 11, times: I_TIMES,
  ptL: I_PT_LNGFR, pt: I_PT, hdL: I_HD_LNGFR, hd: I_HD, sdPtL: I_SD_PT_LNGFR, sdPt: I_SD_PT, sdHdL: I_SD_HD_LNGFR, sdHd: I_SD_HD,
  lx: 643.3, ly: 616.5, lgap: 4.5, lfs: 10, letter: 'I', letX: 511, ytX: 517.7, ytY: 670, ytitle: 'Binding of CD40 (MFI fold)', ytfs: 11.3, xtdx: -4 });

// ================= PANEL J =================
(function () {
  const ch = mkChart();
  const gs = [grid(58.3, 856, 68.4, 69.7), grid(194.3, 856, 60.7, 69.7), grid(305, 856, 61.7, 69.7), grid(416.7, 856, 65, 69.7)];
  gs.forEach(g => { g.show = true; g.borderColor = '#555'; g.borderWidth = 1; g.backgroundColor = 'rgba(0,0,0,0)'; });
  const chanLabels = [[25.9, 78.1], [16.2, 75.7], [12.8, 69.2]];
  const small = { fontSize: 5, color: '#333', margin: 3, fontFamily: FF };
  const yv = [0, 50, 100, 150, 200, 250];
  const xAxes = [axis('value', { gridIndex: 0, min: -4, max: 273, axisLine: { show: false },
    axisTick: { customValues: [0, 25, 50, 75, 100, 125, 150, 175, 200, 225, 250], length: 2, lineStyle: { color: '#333' } },
    axisLabel: merge({ customValues: [0, 100, 200], formatter: v => v ? v + 'K' : '0' }, small) })];
  chanLabels.forEach((cl, k) => {
    xAxes.push(axis('value', { gridIndex: k + 1, min: 0, max: 100, axisLine: { show: false },
      axisTick: { customValues: [cl[0] - 10, cl[0] - 5, cl[0], cl[0] + 5, cl[0] + 10, cl[1] - 15, cl[1] - 8, cl[1] - 4, cl[1], cl[1] + 6, cl[1] + 10, cl[1] + 14], length: 2, lineStyle: { color: '#333' } },
      axisLabel: merge({ customValues: cl, formatter: v => Math.abs(v - cl[0]) < 0.01 ? '0' : '10⁴' }, small) }));
  });
  const yAxes = gs.map((g, k) => axis('value', { gridIndex: k, min: -11.6, max: 259, axisLine: { show: false },
    axisTick: { customValues: yv, length: 2.5, lineStyle: { color: '#333' } },
    axisLabel: merge({ customValues: yv, formatter: v => v ? v + 'K' : '0' }, small) }));
  const evs = [J_FSC_SSC, J_CD3, J_CD154, J_LNGFR];
  const series = evs.map((d, k) => {
    const s = { type: 'scatter', xAxisIndex: k, yAxisIndex: k, data: d, symbolSize: 2.4, itemStyle: { color: '#000' }, silent: true };
    if (k > 0) s.markLine = { silent: true, symbol: 'none', label: { show: false }, lineStyle: { color: '#444', width: 1, type: 'solid' }, data: [{ xAxis: J_GATES[k - 1] }] };
    return s;
  });
  ch.setOption(base({ grid: gs, xAxis: xAxes, yAxis: yAxes, series: series }));
  const ec = ch.convertToPixel({ xAxisIndex: 0, yAxisIndex: 0 }, J_ELLIPSE_CENTER);
  const arrow = (x1, x2, y) => [{ type: 'line', silent: true, shape: { x1: x1, y1: y, x2: x2 - 5, y2: y }, style: { stroke: '#ff5a5a', lineWidth: 2 } },
    { type: 'polygon', silent: true, shape: { points: [[x2, y], [x2 - 7, y - 3.5], [x2 - 7, y + 3.5]] }, style: { fill: '#ff5a5a' } }];
  const gfx = [letter('J', 4.5, 833.3), txt(236.7, 836.7, 'Gating strategy', 14),
    { type: 'ellipse', x: ec[0], y: ec[1], rotation: Math.PI / 4, silent: true, shape: { cx: 0, cy: 0, rx: 29, ry: 13 }, style: { stroke: '#555', fill: 'none', lineWidth: 1 } },
    ...arrow(256.7, 343.3, 880), ...arrow(359.3, 455, 911.7),
    txt(33.3, 890, J_YTITLES[0], 12, { rot: Math.PI / 2, ff: "'DejaVu Sans', sans-serif" }),
    txt(155, 890, J_YTITLES[1], 12, { rot: Math.PI / 2, ff: "'DejaVu Sans', sans-serif" })];
  J_XTITLES.forEach((t, k) => gfx.push(txt(gs[k].left + gs[k].width / 2 + (k === 0 ? 0 : 8), 953.3, t, 12, { ff: "'DejaVu Sans', sans-serif" })));
  J_GATE_LABELS.forEach((gl, k) => {
    const r = gs[k + 1].left + gs[k + 1].width - 2;
    gfx.push(txt(r, 861.7, gl[0], 6.5, { align: 'right' }), txt(r, 870, gl[1], 6.5, { align: 'right' }));
  });
  ch.setOption({ graphic: gfx });
})();
</script></body></html>
